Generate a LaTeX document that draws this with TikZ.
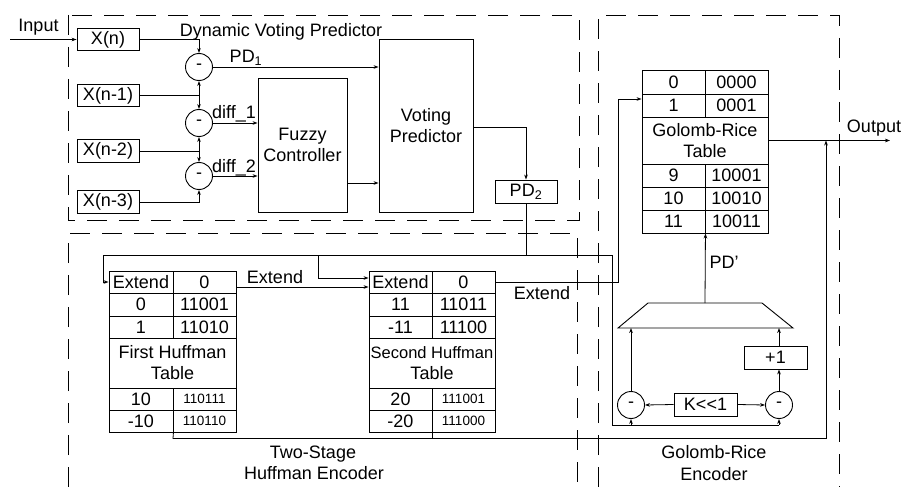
\documentclass[tikz,border=0pt]{standalone}
\usepackage{fontspec}
\setmainfont{Liberation Sans}
\usetikzlibrary{arrows.meta}
\newcommand{\sm}{\fontsize{13.5}{15}\selectfont}
\newcommand{\mycell}[6]{\node[cell,minimum width={(#4)-(#2)},minimum height={(#5)-(#3)}] (#1) at ({((#2)+(#4))/2},{((#3)+(#5))/2}) {#6};}
\begin{document}
\begin{tikzpicture}[x=1pt,y=-1pt,
  every node/.style={font=\fontsize{18}{21}\selectfont, inner sep=0pt},
  box/.style={draw, line width=0.9pt, align=center},
  cell/.style={draw, line width=0.9pt, align=center},
  wire/.style={line width=0.8pt},
  arr/.style={line width=0.8pt,-{Stealth[length=5pt,width=3.6pt]}},
  sub/.style={draw, circle, line width=0.9pt, minimum size=27pt},
  region/.style={line width=0.9pt, dash pattern=on 20pt off 12pt}]
\useasboundingbox (0,0) rectangle (903,487);

% dashed regions
\draw[region] (68,15) rectangle (579,220);
\draw[region] (68,487) -- (68,233) -- (577,233) -- (577,487);
\draw[region] (598,487) -- (598,15) -- (839,15) -- (839,487);

% titles
\node[anchor=base] (tdvp) at (281,37) {Dynamic Voting Predictor};
\node[anchor=base] (thuf1) at (313,458) {Two-Stage};
\node[anchor=base] (thuf2) at (314,479) {Huffman Encoder};
\node[anchor=base] (tgr1) at (714,458) {Golomb-Rice};
\node[anchor=base] (tgr2) at (714,480) {Encoder};

% inputs
\node[box, minimum width=62pt, minimum height=22.5pt] (xn)  at (108,39.5) {X(n)};
\node[box, minimum width=62pt, minimum height=22.5pt] (xn1) at (108,95.5) {X(n-1)};
\node[box, minimum width=62pt, minimum height=22.5pt] (xn2) at (108,151) {X(n-2)};
\node[box, minimum width=62pt, minimum height=22.5pt] (xn3) at (108,202) {X(n-3)};
\coordinate (inp) at (10,39.5);
\node[anchor=base] (inlab) at (38.5,32) {Input};
\draw[arr] (inp) -- (xn.west);

% subtractors
\node[sub] (s1) at (199,67) {-};
\node[sub] (s2) at (199,123) {-};
\node[sub] (s3) at (199,176) {-};
\draw[arr] (xn.east) -| (s1.north);
\draw[arr] (xn1.east) -| (s1.south);
\draw[arr] (xn1.east -| s2.north) -- (s2.north);
\draw[arr] (xn2.east) -| (s2.south);
\draw[arr] (xn2.east -| s3.north) -- (s3.north);
\draw[arr] (xn3.east) -| (s3.south);

% fuzzy controller and voting predictor
\node[box, minimum width=89pt, minimum height=134pt] (fc) at (302.5,145) {Fuzzy\\Controller};
\node[box, minimum width=94pt, minimum height=173pt] (vp) at (426,125.5) {Voting\\Predictor};
\draw[arr] (s1.east) -- (s1.east -| vp.west);
\node[anchor=base] (lpd1) at (246,63) {PD\textsubscript{1}};
\draw[arr] (s2.east) -- (s2.east -| fc.west);
\node[anchor=base] (ld1) at (234,118) {diff\_1};
\draw[arr] (s3.east) -- (s3.east -| fc.west);
\node[anchor=base] (ld2) at (234,172) {diff\_2};
\coordinate (fcout) at (347,183);
\draw[arr] (fcout) -- (fcout -| vp.west);
\node[box, minimum width=62pt, minimum height=23pt] (pd2) at (526,191.5) {PD\textsubscript{2}};
\coordinate (vpout) at (473,127);
\draw[arr] (vpout) -| (pd2.north);

% First Huffman table
\mycell{h1a}{109}{271}{173}{293}{Extend}
\mycell{h1b}{173}{271}{236}{293}{0}
\mycell{h1c}{109}{293}{173}{316}{0}
\mycell{h1d}{173}{293}{236}{316}{11001}
\mycell{h1e}{109}{316}{173}{338}{1}
\mycell{h1f}{173}{316}{236}{338}{11010}
\mycell{h1t}{109}{338}{236}{388}{First Huffman\\Table}
\mycell{h1g}{109}{388}{173}{410}{10}
\mycell{h1h}{173}{388}{236}{410}{\sm 110111}
\mycell{h1i}{109}{410}{173}{432}{-10}
\mycell{h1j}{173}{410}{236}{432}{\sm 110110}

% Second Huffman table
\mycell{h2a}{369}{271}{432}{293}{Extend}
\mycell{h2b}{432}{271}{495}{293}{0}
\mycell{h2c}{369}{293}{432}{316}{11}
\mycell{h2d}{432}{293}{495}{316}{11011}
\mycell{h2e}{369}{316}{432}{338}{-11}
\mycell{h2f}{432}{316}{495}{338}{11100}
\mycell{h2t}{369}{338}{495}{388}{\fontsize{16.5}{21}\selectfont Second Huffman\\Table}
\mycell{h2g}{369}{388}{432}{410}{20}
\mycell{h2h}{432}{388}{495}{410}{\sm 111001}
\mycell{h2i}{369}{410}{432}{432}{-20}
\mycell{h2j}{432}{410}{495}{432}{\sm 111000}

% Golomb-Rice table
\mycell{g0a}{642}{70}{705}{94}{0}
\mycell{g0b}{705}{70}{768}{94}{0000}
\mycell{g1a}{642}{94}{705}{117}{1}
\mycell{g1b}{705}{94}{768}{117}{0001}
\mycell{gt}{642}{117}{768}{164}{Golomb-Rice\\Table}
\mycell{g9a}{642}{164}{705}{187}{9}
\mycell{g9b}{705}{164}{768}{187}{10001}
\mycell{gAa}{642}{187}{705}{210}{10}
\mycell{gAb}{705}{187}{768}{210}{10010}
\mycell{gBa}{642}{210}{705}{233}{11}
\mycell{gBb}{705}{210}{768}{233}{10011}

% PD2 distribution
\coordinate (j1) at (526,255);
\coordinate (jl) at (103,255);
\coordinate (jm) at (318,255);
\coordinate (jr) at (612,255);
\draw[wire] (pd2.south) -- (j1);
\draw[wire] (jl) -- (jr);
\draw[arr] (jl) |- (h1a.west);
\draw[arr] (jm) |- ([yshift=4pt]h2a.west);
\draw[arr] ([yshift=-5pt]h1b.east) -- ([yshift=-5pt]h2a.west);
\node[anchor=base] (lext1) at (275,283) {Extend};
\coordinate (gin) at ([yshift=6.5pt]g1a.west);
\coordinate (cx) at (618,0);
\draw[arr] (h2b.east) -| (cx |- gin) -- (gin);
\node[anchor=base] (lext2) at (542,299) {Extend};

% Golomb-Rice encoder
\node[sub] (r1) at (631,405) {-};
\node[sub] (r2) at (779,405) {-};
\node[box, minimum width=63pt, minimum height=23pt] (kk) at (705.5,404.5) {K<{}<1};
\node[box, minimum width=63pt, minimum height=23pt] (plus) at (775.5,357.5) {+1};
\coordinate (jb) at (612,425);
\draw[wire] (jr) -- (jb) -- (jb -| r2.south);
\draw[arr] (jb -| r1.south) -- (r1.south);
\draw[arr] (jb -| r2.south) -- (r2.south);
\draw[arr] (kk.west) -- (r1.east);
\draw[arr] (kk.east) -- (r2.west);
\coordinate (m1) at (618,328);
\coordinate (m2) at (648,303);
\coordinate (m3) at (762,303);
\coordinate (m4) at (793,328);
\draw[line width=0.9pt] (m1) -- (m2) -- (m3) -- (m4) -- cycle;
\draw[arr] (r1.north) -- (r1.north |- m1);
\draw[arr] (r2.north) -- (r2.north |- plus.south);
\draw[arr] (r2.north |- plus.north) -- (r2.north |- m1);
\coordinate (mtop) at (705,303);
\draw[arr] (mtop) -- (gBa.south east);
\node[anchor=base] (lpdp) at (724,268) {PD’};

% output
\coordinate (out) at (890,140.5);
\draw[arr] (gt.east) -- (out);
\node[anchor=base] (outlab) at (874,132) {Output};
\coordinate (b1) at (173,438.5);
\coordinate (b2) at (826,438.5);
\draw[wire] (h1i.south east) -- (b1) -- (b2);
\draw[wire] (h2i.south east) -- (h2i.south east |- b1);
\draw[arr] (b2) -- (b2 |- out);
\end{tikzpicture}
\end{document}
